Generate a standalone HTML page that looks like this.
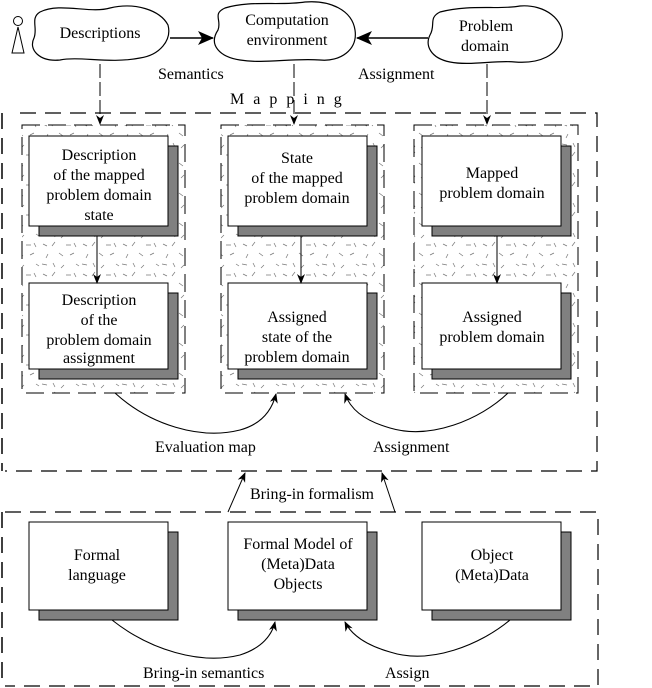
<!DOCTYPE html>
<html><head><meta charset="utf-8"><style>
html,body{margin:0;padding:0;background:#fff;}
svg{display:block;}
svg text{font-family:"Liberation Serif","Times New Roman",Times,"DejaVu Serif",serif;font-size:16px;fill:#000;}
</style></head><body>
<svg width="652" height="688" viewBox="0 0 652 688" xmlns="http://www.w3.org/2000/svg">
<defs>
<marker id="ah" markerWidth="10" markerHeight="10" refX="9" refY="5" orient="auto" markerUnits="userSpaceOnUse">
<path d="M0,1 L10,5 L0,9 L3,5 z" fill="#000"/></marker>
<marker id="ahb" markerWidth="16" markerHeight="14" refX="15" refY="7" orient="auto" markerUnits="userSpaceOnUse">
<path d="M0,0 L16,7 L0,14 L4,7 z" fill="#000"/></marker>
<pattern id="tex" width="40" height="30" patternUnits="userSpaceOnUse">
<g stroke="#777" stroke-width="0.7">
<path d="M3,4 l4,2 M15,2 l-3,4 M26,5 l5,0 M34,3 l2,4 M8,14 l-2,4 M19,13 l4,3 M30,15 l4,-2 M2,24 l5,1 M13,23 l2,4 M24,25 l-3,3 M36,24 l3,2"/>
</g></pattern>
</defs>
<circle cx="18" cy="21" r="4.5" fill="none" stroke="#000"/>
<path d="M18,27 L12,53 L24,53 z" fill="none" stroke="#000"/>
<path d="M40,12 C60,2 90,14 110,8 C135,2 160,10 168,25 C172,40 160,55 140,58 C110,64 80,56 60,60 C40,62 28,50 34,38 C38,28 30,18 40,12 z" fill="#fff" stroke="#000" stroke-width="1.2"/>
<text x="100" y="38" text-anchor="middle">Descriptions</text>
<path d="M225,8 C250,0 280,6 305,2 C330,0 352,10 355,30 C358,50 340,62 320,60 C290,58 265,64 240,60 C220,57 208,45 218,30 C222,20 212,14 225,8 z" fill="#fff" stroke="#000" stroke-width="1.2"/>
<text x="287" y="25" text-anchor="middle">Computation</text>
<text x="287" y="45" text-anchor="middle">environment</text>
<path d="M440,12 C470,4 500,10 520,6 C545,4 565,20 562,38 C558,55 540,64 515,62 C495,60 470,66 450,62 C430,58 425,45 430,35 C436,25 428,18 440,12 z" fill="#fff" stroke="#000" stroke-width="1.2"/>
<text x="486" y="31" text-anchor="middle">Problem</text>
<text x="485" y="51" text-anchor="middle">domain</text>
<line x1="170" y1="38" x2="213" y2="38" stroke="#000" stroke-width="1.5" marker-end="url(#ahb)"/>
<line x1="428" y1="38" x2="357" y2="38" stroke="#000" stroke-width="1.5" marker-end="url(#ahb)"/>
<text x="158" y="79">Semantics</text>
<text x="358" y="79">Assignment</text>
<text x="230" y="104" letter-spacing="9">Mapping</text>
<line x1="100" y1="64" x2="100" y2="124" stroke="#000" stroke-dasharray="14,4" marker-end="url(#ah)"/>
<line x1="294" y1="64" x2="294" y2="124" stroke="#000" stroke-dasharray="14,4" marker-end="url(#ah)"/>
<line x1="487" y1="64" x2="487" y2="124" stroke="#000" stroke-dasharray="14,4" marker-end="url(#ah)"/>
<path d="M20,113 L597,113 L597,471 L5,471" fill="none" stroke="#000" stroke-dasharray="16,9" stroke-width="1.2"/>
<line x1="2" y1="113" x2="2" y2="471" stroke="#000" stroke-dasharray="16,9" stroke-width="1.5"/>
<g stroke="#000" stroke-dasharray="18,8" stroke-width="1">
<rect x="22" y="125" width="163" height="268" fill="url(#tex)"/>
<rect x="221" y="125" width="163" height="268" fill="url(#tex)"/>
<rect x="414" y="125" width="164" height="268" fill="url(#tex)"/>
</g>
<g stroke="#000" stroke-width="1">
<rect x="39" y="146" width="139" height="90" fill="#808080"/>
<rect x="29" y="136" width="139" height="90" fill="#fff"/>
<rect x="39" y="293" width="139" height="86" fill="#808080"/>
<rect x="29" y="283" width="139" height="86" fill="#fff"/>
<rect x="238" y="146" width="139" height="90" fill="#808080"/>
<rect x="228" y="136" width="139" height="90" fill="#fff"/>
<rect x="238" y="293" width="139" height="86" fill="#808080"/>
<rect x="228" y="283" width="139" height="86" fill="#fff"/>
<rect x="432" y="146" width="139" height="90" fill="#808080"/>
<rect x="422" y="136" width="139" height="90" fill="#fff"/>
<rect x="432" y="293" width="139" height="86" fill="#808080"/>
<rect x="422" y="283" width="139" height="86" fill="#fff"/>
</g>
<line x1="97" y1="236" x2="97" y2="283" stroke="#000" marker-end="url(#ah)"/>
<line x1="301" y1="236" x2="301" y2="283" stroke="#000" marker-end="url(#ah)"/>
<line x1="497" y1="236" x2="497" y2="283" stroke="#000" marker-end="url(#ah)"/>
<g text-anchor="middle">
<text x="99" y="160">Description</text>
<text x="99" y="180">of the mapped</text>
<text x="99" y="200">problem domain</text>
<text x="99" y="220">state</text>
<text x="99" y="305">Description</text>
<text x="99" y="325">of the</text>
<text x="99" y="345">problem domain</text>
<text x="99" y="363">assignment</text>
<text x="297" y="163">State</text>
<text x="297" y="183">of the mapped</text>
<text x="297" y="203">problem domain</text>
<text x="297" y="322">Assigned</text>
<text x="297" y="342">state of the</text>
<text x="297" y="362">problem domain</text>
<text x="492" y="178">Mapped</text>
<text x="492" y="198">problem domain</text>
<text x="492" y="322">Assigned</text>
<text x="492" y="342">problem domain</text>
</g>
<path d="M115,393 C150,425 200,440 240,430 C262,424 272,410 276,394" fill="none" stroke="#000" stroke-width="1.1" marker-end="url(#ah)"/>
<path d="M508,393 C480,420 430,440 390,428 C362,420 350,408 345,394" fill="none" stroke="#000" stroke-width="1.1" marker-end="url(#ah)"/>
<text x="155" y="452">Evaluation map</text>
<text x="373" y="452">Assignment</text>
<line x1="228" y1="512" x2="245" y2="473" stroke="#000" marker-end="url(#ah)"/>
<line x1="395" y1="512" x2="382" y2="473" stroke="#000" marker-end="url(#ah)"/>
<text x="250" y="499">Bring-in formalism</text>
<path d="M5,512 L598,512 L598,686 L5,686" fill="none" stroke="#000" stroke-dasharray="16,9" stroke-width="1.2"/>
<line x1="2" y1="512" x2="2" y2="686" stroke="#000" stroke-dasharray="16,9" stroke-width="1.5"/>
<g stroke="#000" stroke-width="1">
<rect x="39" y="532" width="139" height="88" fill="#808080"/>
<rect x="29" y="522" width="139" height="88" fill="#fff"/>
<rect x="238" y="532" width="139" height="88" fill="#808080"/>
<rect x="228" y="522" width="139" height="88" fill="#fff"/>
<rect x="432" y="532" width="139" height="88" fill="#808080"/>
<rect x="422" y="522" width="139" height="88" fill="#fff"/>
</g>
<g text-anchor="middle">
<text x="97" y="560">Formal</text>
<text x="97" y="580">language</text>
<text x="298" y="549">Formal Model of</text>
<text x="298" y="569">(Meta)Data</text>
<text x="298" y="589">Objects</text>
<text x="492" y="560">Object</text>
<text x="492" y="580">(Meta)Data</text>
</g>
<path d="M112,620 C150,650 200,665 240,655 C262,648 272,635 275,622" fill="none" stroke="#000" stroke-width="1.1" marker-end="url(#ah)"/>
<path d="M510,620 C480,645 430,665 390,652 C362,644 350,632 345,622" fill="none" stroke="#000" stroke-width="1.1" marker-end="url(#ah)"/>
<text x="143" y="678">Bring-in semantics</text>
<text x="385" y="678">Assign</text>
</svg>
</body></html>
